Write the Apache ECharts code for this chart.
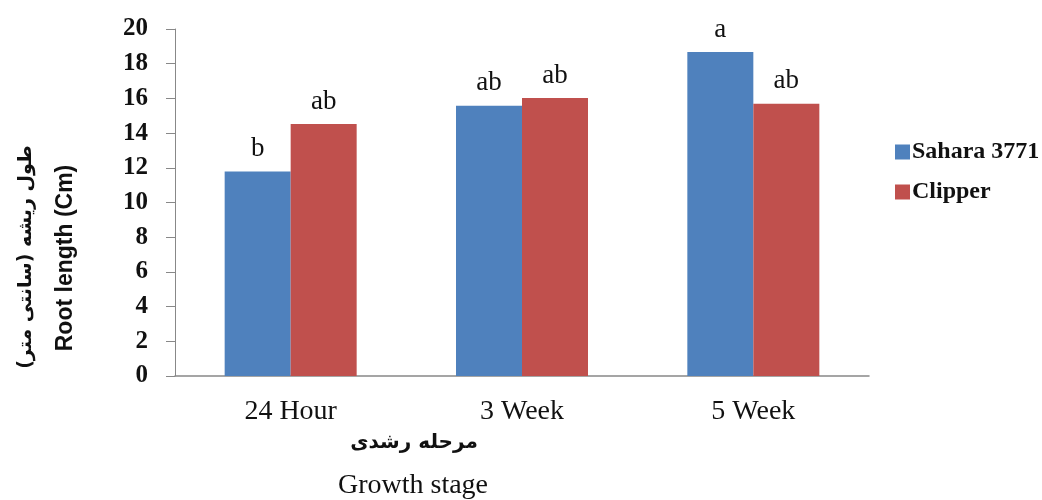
<!DOCTYPE html>
<html><head><meta charset="utf-8">
<script src="https://cdn.jsdelivr.net/npm/echarts@6/dist/echarts.min.js"></script>
<style>html,body{margin:0;padding:0;background:#fff}#c{width:1042px;height:500px}</style>
</head><body><div id="c"></div>
<script>
const categories = ['24 Hour', '3 Week', '5 Week'];
const saharaValues = [11.78, 15.57, 18.67];
const clipperValues = [14.52, 16.02, 15.69];
const saharaLetters = ['b', 'ab', 'a'];
const clipperLetters = ['ab', 'ab', 'ab'];
const yTicks = [0, 2, 4, 6, 8, 10, 12, 14, 16, 18, 20];

const chart = echarts.init(document.getElementById('c'));
const serif = "'Liberation Serif', 'DejaVu Serif', serif";
const lbl = letters => ({
  show: true, position: 'top', distance: 9,
  formatter: p => letters[p.dataIndex],
  fontFamily: serif, fontSize: 27, color: '#111'
});
chart.setOption({
  animation: false,
  backgroundColor: '#fff',
  grid: { left: 175, right: 173, top: 29, bottom: 124 },
  legend: {
    orient: 'vertical', left: 890, top: 135, itemGap: 16,
    itemWidth: 15, itemHeight: 15, icon: 'rect',
    textStyle: { fontFamily: serif, fontWeight: 'bold', fontSize: 24, color: '#111', padding: [0,0,0,-3] },
    data: ['Sahara 3771', 'Clipper']
  },
  xAxis: {
    type: 'category', data: categories,
    axisLine: { lineStyle: { color: '#888', width: 1.5 } },
    axisTick: { show: false },
    axisLabel: { fontFamily: serif, fontSize: 28, color: '#111', margin: 22 }
  },
  yAxis: {
    type: 'value', min: yTicks[0], max: yTicks[yTicks.length - 1], interval: 2,
    splitLine: { show: false },
    axisLine: { show: true, lineStyle: { color: '#888' } },
    axisTick: { show: true, inside: false, length: 9, lineStyle: { color: '#888' } },
    axisLabel: { fontFamily: serif, fontWeight: 'bold', fontSize: 25, color: '#111', margin: 27 }
  },
  series: [
    { name: 'Sahara 3771', type: 'bar', data: saharaValues, barWidth: 66, barGap: '0%',
      itemStyle: { color: '#4f81bd' }, label: lbl(saharaLetters) },
    { name: 'Clipper', type: 'bar', data: clipperValues, barWidth: 66,
      itemStyle: { color: '#c0504d' }, label: lbl(clipperLetters) }
  ],
  graphic: [
    { type: 'text', rotation: Math.PI / 2, x: 26, y: 257,
      style: { text: 'طول ریشه (سانتی متر)', font: "bold 19px 'DejaVu Sans', sans-serif",
        fill: '#111', align: 'center', verticalAlign: 'middle' } },
    { type: 'text', rotation: Math.PI / 2, x: 66, y: 258,
      style: { text: 'Root length (Cm)', font: "bold 23px 'Liberation Sans', Arial, sans-serif",
        fill: '#111', align: 'center', verticalAlign: 'middle' } },
    { type: 'text', x: 414, y: 443,
      style: { text: 'مرحله رشدی', font: "bold 20px 'DejaVu Sans', sans-serif",
        fill: '#111', align: 'center', verticalAlign: 'middle' } },
    { type: 'text', x: 413, y: 486,
      style: { text: 'Growth stage', font: "28px 'Liberation Serif', serif",
        fill: '#111', align: 'center', verticalAlign: 'middle' } }
  ]
});
</script></body></html>
